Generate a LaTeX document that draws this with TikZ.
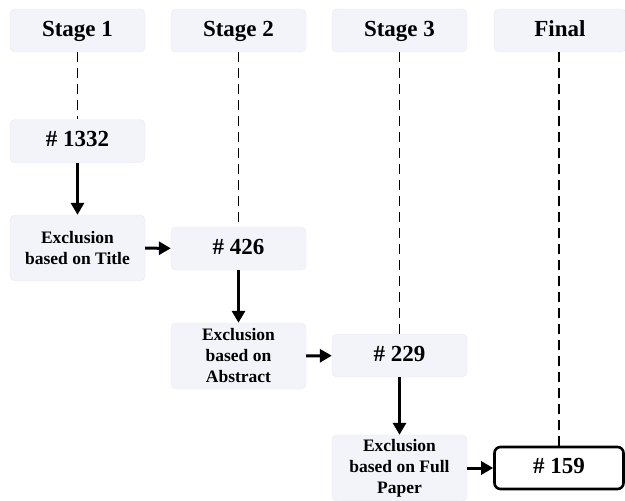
\documentclass[tikz,border=0pt]{standalone}
\usepackage{fontspec}
\setmainfont{Liberation Serif}
\usetikzlibrary{arrows.meta}
\definecolor{boxfill}{HTML}{F3F4FA}
\definecolor{boxline}{HTML}{E7E9F3}
\begin{document}
\begin{tikzpicture}[x=1pt,y=-1pt,
  lbox/.style={draw=boxline,fill=boxfill,rounded corners=5pt,minimum width=135pt,inner sep=0pt,align=center,font=\bfseries\fontsize{23}{25}\selectfont},
  hbox/.style={lbox,minimum height=43pt,text height=16pt,text depth=5pt},
  ebox/.style={lbox,minimum height=66pt,font=\bfseries\fontsize{17.5}{21}\selectfont},
  fbox/.style={draw=black,line width=2.6pt,fill=white,rounded corners=6pt,minimum width=129pt,minimum height=42pt,inner sep=0pt,text height=16pt,text depth=5pt,font=\bfseries\fontsize{23}{25}\selectfont},
  dline/.style={dashed,dash pattern=on 10pt off 6pt,line width=1.8pt},
  arr/.style={-{Triangle[length=12pt,width=13pt]},line width=3pt}]
\useasboundingbox (0,0) rectangle (625,501);
\node[hbox] (s1) at (77.5,30.5) {Stage 1};
\node[hbox] (s2) at (238.5,30.5) {Stage 2};
\node[hbox] (s3) at (399.5,30.5) {Stage 3};
\node[hbox,minimum width=132pt] (s4) at (560,30.5) {Final};
\node[hbox] (n1) at (77.5,141) {\# 1332};
\node[ebox] (e1) at (77.5,248) {Exclusion\\based on Title};
\node[hbox] (n2) at (238.5,248.5) {\# 426};
\node[ebox] (e2) at (238.5,356) {Exclusion\\based on\\Abstract};
\node[hbox] (n3) at (399.5,355.5) {\# 229};
\node[ebox] (e3) at (399.5,468) {Exclusion\\based on Full\\Paper};
\node[fbox] (n4) at (559,468) {\# 159};
\draw[dline] (s1) -- (n1);
\draw[dline] (s2) -- (n2);
\draw[dline] (s3) -- (n3);
\draw[dline] (s4.south -| n4.north) -- (n4);
\draw[arr] (n1) -- (e1);
\draw[arr] (e1) -- (n2);
\draw[arr] (n2) -- (e2);
\draw[arr] (e2) -- (n3);
\draw[arr] (n3) -- (e3);
\draw[arr] (e3) -- (n4);
\end{tikzpicture}
\end{document}
